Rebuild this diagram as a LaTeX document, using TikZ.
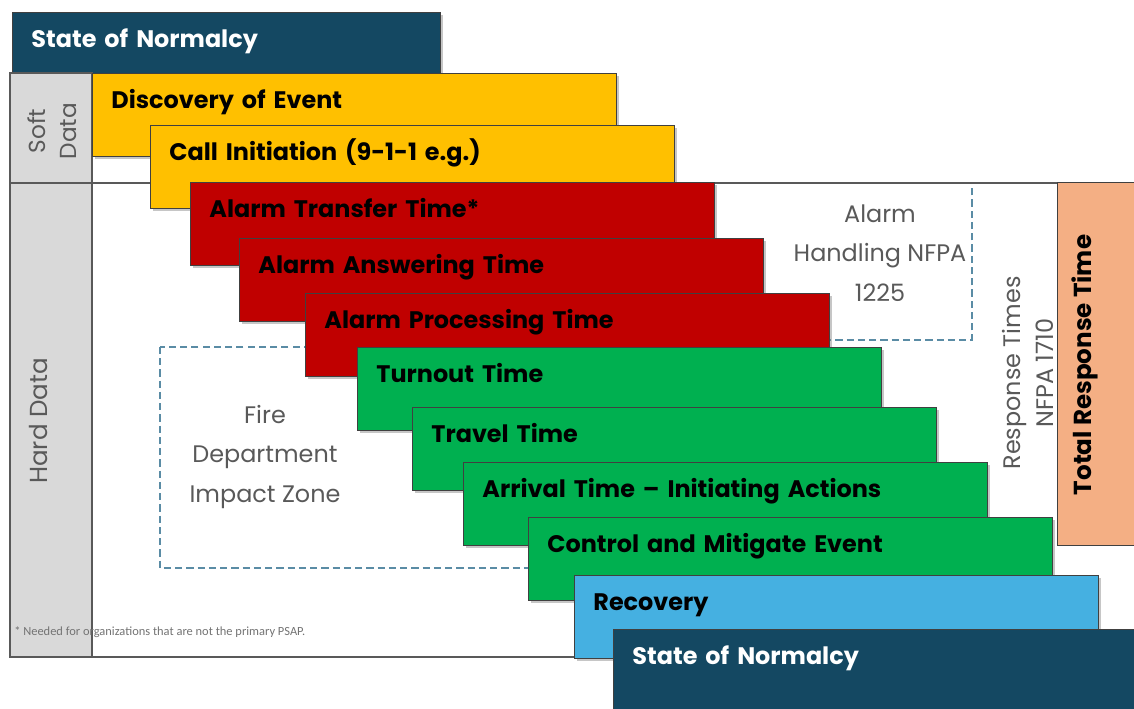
\documentclass[tikz,border=0pt]{standalone}
\usepackage{fontspec}
\setmainfont{Poppins}
\newfontfamily\notefont{Carlito}
\usepackage{tikz}
\usetikzlibrary{shadows}
\definecolor{navy}{RGB}{20,72,98}
\definecolor{amber}{RGB}{255,192,0}
\definecolor{alarmred}{RGB}{192,0,0}
\definecolor{firegreen}{RGB}{0,176,80}
\definecolor{sky}{RGB}{69,176,225}
\definecolor{salmon}{RGB}{244,175,132}
\definecolor{colgray}{RGB}{217,217,217}
\definecolor{dashblue}{RGB}{90,140,165}
\definecolor{labelgray}{RGB}{89,89,89}
\tikzstyle{stage} = [rectangle, draw=black!75, line width=0.6pt, anchor=north west, inner xsep=0.475cm, inner ysep=0pt, text width=12.15cm, align=left, text height=0.875cm, text depth=1.2cm, font=\fontsize{17}{20}\selectfont\bfseries, drop shadow={opacity=0.45, shadow xshift=1.5pt, shadow yshift=-1.5pt}]
\tikzstyle{zone} = [draw=dashblue, line width=1pt, dash pattern=on 5pt off 3pt]
\tikzstyle{frame} = [draw=black!65, line width=0.9pt]
\tikzstyle{note} = [text=labelgray, align=center, font=\fontsize{17}{28}\selectfont]

\begin{document}
\begin{tikzpicture}[x=0.025cm, y=-0.025cm]
    \useasboundingbox (0,0) rectangle (1134,709);

    % Starting state
    \node[stage, fill=navy, text=white, text width=9.75cm] (snTop) at (12,12) {State of Normalcy};

    % Dashed zones
    \draw[zone] (700,183) rectangle (972,340);
    \draw[zone] (160,347) rectangle (560,568);

    % Frame with data columns
    \draw[frame, fill=colgray] (10,73) rectangle (92,657);
    \draw[frame] (10,183) -- (1160,183);
    \draw[frame] (10,657) -- (1160,657);

    % Soft data stages
    \node[stage, fill=amber] (discovery) at (92,73) {Discovery of Event};
    \node[stage, fill=amber] (callinit) at (150,125) {Call Initiation (9-1-1 e.g.)};

    % Alarm handling stages
    \node[stage, fill=alarmred] (transfer) at (190,182) {Alarm Transfer Time*};
    \node[stage, fill=alarmred] (answering) at (239,238) {Alarm Answering Time};
    \node[stage, fill=alarmred] (processing) at (305,293) {Alarm Processing Time};

    % Fire department stages
    \node[stage, fill=firegreen] (turnout) at (357,347) {Turnout Time};
    \node[stage, fill=firegreen] (travel) at (412,407) {Travel Time};
    \node[stage, fill=firegreen] (arrival) at (463,462) {Arrival Time -- Initiating Actions};
    \node[stage, fill=firegreen] (mitigate) at (528,517) {Control and Mitigate Event};

    % Back to normal
    \node[stage, fill=sky] (recovery) at (574,575) {Recovery};
    \node[stage, fill=navy, text=white] (snBottom) at (613,629) {State of Normalcy};

    % Total response time bar
    \node[draw=black!75, line width=0.6pt, fill=salmon, anchor=north west, minimum width=2.5cm, minimum height=9.075cm] (totalbox) at (1057,182) {};
    \node[rotate=90, font=\fontsize{17.5}{20}\selectfont\bfseries] (totallbl) at (1085,365) {Total Response Time};

    % Side and zone labels
    \node[note, rotate=90, font=\fontsize{16.5}{22}\selectfont] (softlbl) at (52,131) {Soft\\Data};
    \node[note, rotate=90, font=\fontsize{17.5}{20}\selectfont] (hardlbl) at (39,421) {Hard Data};
    \node[note] (alarmlbl) at (880,253) {Alarm\\Handling NFPA\\1225};
    \node[note] (zonelbl) at (265,457) {Fire\\Department\\Impact Zone};
    \node[note, rotate=90, font=\fontsize{17}{23}\selectfont] (resplbl) at (1028,373) {Response Times\\NFPA 1710};

    % Footnote
    \node[anchor=west, inner sep=0pt, text=black!55, font=\notefont\fontsize{8.85}{10}\selectfont] (footnote) at (14,632) {* Needed for organizations that are not the primary PSAP.};
\end{tikzpicture}
\end{document}
